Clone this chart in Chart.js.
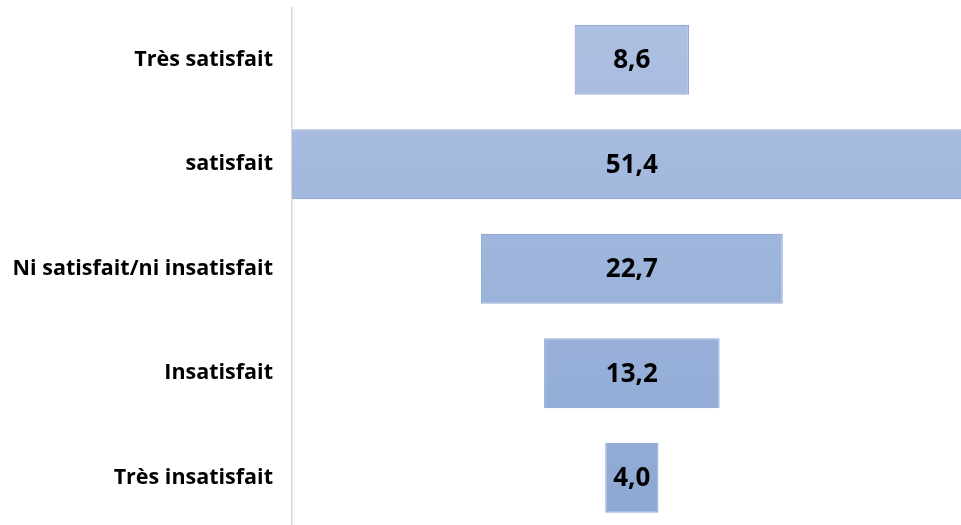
<!DOCTYPE html>
<html>
<head>
<meta charset="utf-8">
<script src="https://cdn.jsdelivr.net/npm/chart.js@4/dist/chart.umd.min.js"></script>
<style>
  html, body { margin: 0; padding: 0; background: #fff; overflow: hidden; width: 961px; height: 525px; }
  canvas { display: block; }
</style>
</head>
<body>
<canvas id="c" width="961" height="530"></canvas>
<script>
// Satisfaction levels, top to bottom
const categories = ['Très satisfait', 'satisfait', 'Ni satisfait/ni insatisfait', 'Insatisfait', 'Très insatisfait'];
// Share of respondents (%)
const shares = [8.6, 51.4, 22.7, 13.2, 4.0];

// Each bar is centred on zero, spanning half its value on either side
const spans = shares.map(v => [-v / 2, v / 2]);

const fmt = v => v.toFixed(1).replace('.', ',');

const valueLabels = {
  id: 'valueLabels',
  afterDatasetsDraw(chart) {
    const ctx = chart.ctx;
    const meta = chart.getDatasetMeta(0);
    ctx.save();
    ctx.font = 'bold 26px "Open Sans"';
    ctx.fillStyle = '#000';
    ctx.textAlign = 'center';
    ctx.textBaseline = 'middle';
    meta.data.forEach((bar, i) => {
      ctx.fillText(fmt(shares[i]), (bar.x + bar.base) / 2, bar.y + 1);
    });
    ctx.restore();
  }
};

const ctx = document.getElementById('c').getContext('2d');
new Chart(ctx, {
  type: 'bar',
  data: {
    labels: categories,
    datasets: [{
      data: spans,
      backgroundColor(c) {
        const area = c.chart.chartArea;
        if (!area) return '#a3b7db';
        const g = c.chart.ctx.createLinearGradient(0, area.top, 0, area.bottom);
        g.addColorStop(0, '#aec1e2');
        g.addColorStop(1, '#8ca7d4');
        return g;
      },
      borderColor: '#93acd8',
      borderWidth: 1.2,
      borderSkipped: false,
      barPercentage: 0.67,
      categoryPercentage: 1
    }]
  },
  options: {
    indexAxis: 'y',
    responsive: false,
    animation: false,
    layout: { padding: { top: 7.5, right: 0, bottom: 0, left: 0 } },
    plugins: { legend: { display: false }, tooltip: { enabled: false } },
    scales: {
      x: { display: false, min: -25.55, max: 24.75 },
      y: {
        grid: { display: false },
        border: { display: true, color: '#d9d9d9', width: 1.5 },
        ticks: { color: '#000', font: { family: 'Open Sans', weight: 'bold', size: 21.5 }, padding: 11 },
        afterFit(scale) {
          scale.width = 292;
          scale.paddingTop = 0;
          scale.paddingBottom = 0;
        }
      }
    }
  },
  plugins: [valueLabels]
});
</script>
</body>
</html>
